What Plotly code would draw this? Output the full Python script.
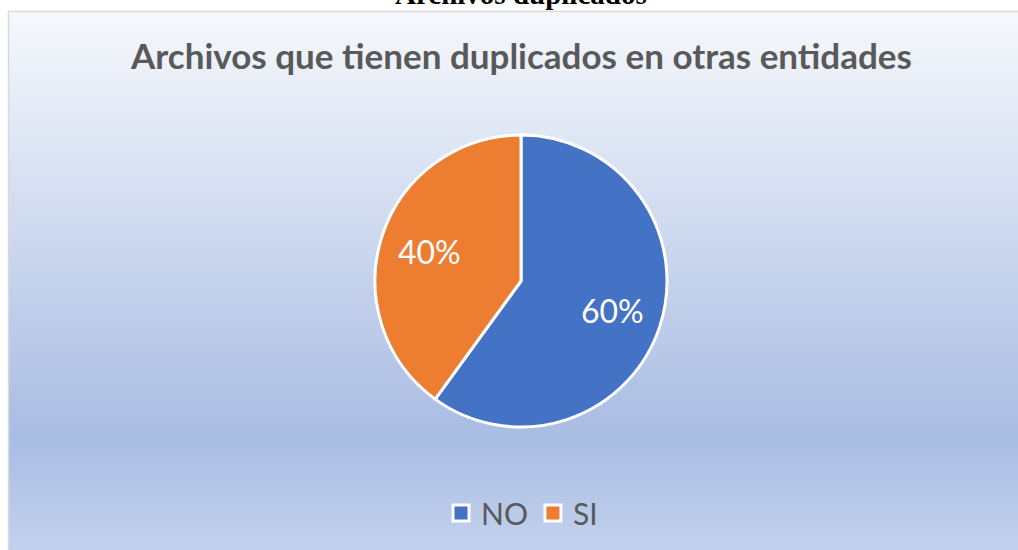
import math
import plotly.graph_objects as go

# ---- data ----
labels = ["NO", "SI"]
values = [60, 40]
colors = ["#4472C4", "#ED7D31"]
title_text = "Archivos que tienen duplicados en otras entidades"
caption_text = "Archivos duplicados"

W, H = 1018, 550

def px_x(x):
    return x / W

def px_y(y):
    return 1 - y / H

def hex2rgb(h):
    h = h.lstrip("#")
    return tuple(int(h[i:i + 2], 16) for i in (0, 2, 4))

def lerp(c1, c2, t):
    return tuple(round(a + (b - a) * t) for a, b in zip(c1, c2))

# gradient stops (pixel y, colour)
stops = [(11, "#F6F8FC"), (437, "#A9BCE3"), (560, "#C4D3EE")]

shapes = []
step = 2
y = 11
while y < 560:
    yc = y + step / 2
    for (y0, c0), (y1, c1) in zip(stops[:-1], stops[1:]):
        if y0 <= yc <= y1:
            c = lerp(hex2rgb(c0), hex2rgb(c1), (yc - y0) / (y1 - y0))
            break
    else:
        c = hex2rgb(stops[-1][1])
    shapes.append(dict(type="rect", xref="paper", yref="paper",
                       x0=px_x(8), x1=px_x(1030), y0=px_y(y + step + 0.5), y1=px_y(y),
                       fillcolor="rgb(%d,%d,%d)" % c, line=dict(width=0), layer="below"))
    y += step

# border
shapes.append(dict(type="rect", xref="paper", yref="paper",
                   x0=px_x(8.5), x1=px_x(1030), y0=px_y(570), y1=px_y(11.5),
                   fillcolor="rgba(0,0,0,0)", line=dict(color="#D9D9D9", width=1.5), layer="below"))

cx, cy, r = 521, 281, 146

fig = go.Figure()
fig.add_trace(go.Pie(
    labels=labels, values=values, sort=False, direction="clockwise", rotation=0,
    marker=dict(colors=colors, line=dict(color="white", width=3)),
    textinfo="none", showlegend=False,
    domain=dict(x=[px_x(cx - r), px_x(cx + r)], y=[px_y(cy + r), px_y(cy - r)]),
    hoverinfo="label+percent",
))

# legend entries (square markers)
for lab, col in zip(labels, colors):
    fig.add_trace(go.Scatter(
        x=[None], y=[None], mode="markers", name=lab, showlegend=True,
        marker=dict(symbol="square", size=16, color=col, line=dict(color="white", width=3)),
    ))

# percentage labels placed from the slice angles
annotations = []
total = sum(values)
cum = 0
for v in values:
    mid = (cum + v / 2) / total * 2 * math.pi
    cum += v
    lx = cx + 0.66 * r * math.sin(mid)
    ly = cy - 0.66 * r * math.cos(mid)
    annotations.append(dict(text="%d%%" % round(100 * v / total), x=px_x(lx), y=px_y(ly),
                            xref="paper", yref="paper", xanchor="center", yanchor="middle",
                            showarrow=False, font=dict(family="Lato", size=32, color="white")))

annotations += [
    dict(text="<b>" + title_text + "</b>", x=px_x(521), y=px_y(55), xref="paper", yref="paper",
         xanchor="center", yanchor="middle", showarrow=False,
         font=dict(family="Lato", size=35, color="#595959")),
    dict(text="<b>" + caption_text + "</b>", x=px_x(521), y=px_y(-6), xref="paper", yref="paper",
         xanchor="center", yanchor="middle", showarrow=False,
         font=dict(family="Liberation Serif", size=29, color="black")),
]

fig.update_layout(
    width=W, height=H,
    margin=dict(l=0, r=0, t=0, b=0),
    paper_bgcolor="white", plot_bgcolor="rgba(0,0,0,0)",
    shapes=shapes,
    xaxis=dict(visible=False), yaxis=dict(visible=False),
    showlegend=True,
    legend=dict(orientation="h", x=px_x(522), xanchor="center", y=px_y(513), yanchor="middle",
                font=dict(family="Lato", size=30, color="#595959"),
                bgcolor="rgba(0,0,0,0)"),
    annotations=annotations,
)

fig.write_html("out.html", config={"displayModeBar": False},
               post_script="document.body.style.margin='0';")
